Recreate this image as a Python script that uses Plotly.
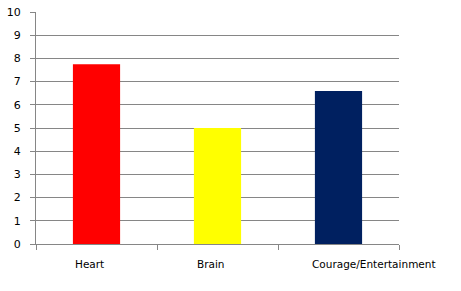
import plotly.graph_objects as go

categories = ["Heart", "Brain", "Courage/Entertainment"]
values = [7.75, 5.0, 6.6]
colors = ["#ff0000", "#ffff00", "#002060"]
y_ticks = list(range(0, 11))
label_shifts = [-7, -7, 35]

fig = go.Figure(go.Bar(x=categories, y=values, marker_color=colors, marker_line_width=0, width=0.39))
fig.update_layout(
    width=461, height=291,
    margin=dict(l=36, r=62, t=12, b=47),
    paper_bgcolor="white", plot_bgcolor="white",
    showlegend=False,
    font=dict(family="DejaVu Sans, Verdana, sans-serif", size=10, color="#000000"),
)
for i, (cat, sh) in enumerate(zip(categories, label_shifts)):
    fig.add_annotation(x=i, y=0, xref="x", yref="y", text=cat, showarrow=False,
                       yanchor="top", yshift=-12, xshift=sh,
                       font=dict(size=10.5, color="#000000"))
fig.update_xaxes(
    type="category", range=[-0.5, len(categories) - 0.5],
    showline=True, linecolor="#868686", linewidth=1,
    ticks="outside", tickson="boundaries", ticklen=5, tickcolor="#868686",
    showgrid=False, showticklabels=False, automargin=False,
)
fig.update_yaxes(
    range=[0, 10], tickvals=y_ticks, showline=True, linecolor="#868686", linewidth=1,
    ticks="outside", ticklen=5, tickcolor="#868686",
    showgrid=True, gridcolor="#868686", gridwidth=1, zeroline=False,
    tickfont=dict(size=11), automargin=False, ticklabelstandoff=7,
)
fig.write_html("out.html")
